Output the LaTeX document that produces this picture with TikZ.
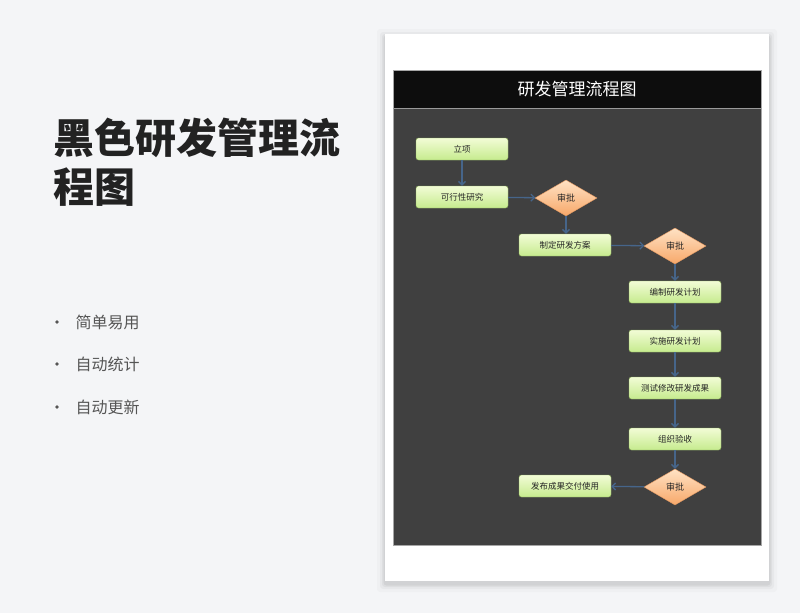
\documentclass[tikz,border=0pt]{standalone}
\usepackage{fontspec}
\setmainfont{Noto Sans CJK SC}
\newfontfamily\cjk{Noto Sans CJK SC}
\usepackage{tikz}
\usetikzlibrary{arrows.meta}
\usetikzlibrary{positioning,shapes.geometric}
\definecolor{pagebg}{HTML}{F4F5F7}
\definecolor{panelbg}{HTML}{404040}
\definecolor{barbg}{HTML}{0D0D0D}
\definecolor{boxtop}{HTML}{F2FCD6}
\definecolor{boxbot}{HTML}{C6EB8E}
\definecolor{boxline}{HTML}{8FB35A}
\definecolor{dtop}{HTML}{FFE2C4}
\definecolor{dbot}{HTML}{F7A86A}
\definecolor{dline}{HTML}{E59A62}
\definecolor{flow}{HTML}{46658A}
\definecolor{bigtext}{HTML}{222222}
\definecolor{listtext}{HTML}{555555}

\begin{document}
\begin{tikzpicture}[
x=1pt,y=-1pt,
ProcBox/.style={draw=boxline,top color=boxtop,bottom color=boxbot,rounded corners=2.5pt,
  minimum width=92pt,minimum height=22pt,inner sep=0pt,font=\cjk\fontsize{8.5}{10}\selectfont,text=black!85},
CheckDiamond/.style={diamond,draw=dline,top color=dtop,bottom color=dbot,aspect=1.7,
  minimum width=62pt,minimum height=36pt,inner sep=0pt,font=\cjk\fontsize{9}{10}\selectfont,text=black!85},
FlowArrow/.style={draw=flow,line width=1.3pt,-{Straight Barb[length=3.5pt,width=7pt]}},
ListItem/.style={anchor=west,font=\cjk\fontsize{16}{18}\selectfont,text=listtext}
]
\useasboundingbox (0,0) rectangle (800,613);
\fill[pagebg] (0,0) rectangle (800,613);

% card with soft shadow
\foreach \s/\o in {8/0.02,5/0.03,3/0.04,1.5/0.05}
  \fill[black,opacity=\o,rounded corners=3pt] (385-\s,34-\s+3) rectangle (769+\s,581+\s+3);
\fill[white] (385,34) rectangle (769,581);

% panel
\fill[panelbg] (393,108) rectangle (761,545);
\fill[barbg] (393,70) rectangle (761,108);
\draw[gray!70,line width=0.8pt] (393,70) rectangle (761,545);
\draw[gray!80,line width=0.6pt] (393,108) -- (761,108);
\node[text=white,font=\cjk\fontsize{17}{20}\selectfont] (title) at (577,89) {研发管理流程图};

% left side text
\node[anchor=north west,align=left,inner sep=0pt,text=bigtext,
  font=\cjk\bfseries\fontsize{41}{49}\selectfont] (heading) at (53,118) {黑色研发管理流\\程图};

\foreach \t/\yy/\n in {简单易用/322/a,自动统计/364/b,自动更新/407/c}{
  \fill[listtext] (57,\yy) circle (1.8pt);
  \node[ListItem] (item\n) at (72,\yy) {\t};
}

% flow chart
\node[ProcBox] (lixiang) at (462,149) {立项};
\node[ProcBox] (kexing) at (462,197) {可行性研究};
\node[CheckDiamond] (shenpiA) at (566,198) {审批};
\node[ProcBox] (fangan) at (565,245) {制定研发方案};
\node[CheckDiamond] (shenpiB) at (675,246) {审批};
\node[ProcBox] (bianzhi) at (675,292) {编制研发计划};
\node[ProcBox] (shishi) at (675,341) {实施研发计划};
\node[ProcBox] (ceshi) at (675,388) {测试修改研发成果};
\node[ProcBox] (yanshou) at (675,439) {组织验收};
\node[CheckDiamond] (shenpiC) at (675,487) {审批};
\node[ProcBox] (fabu) at (565,486) {发布成果交付使用};

\draw[FlowArrow] (lixiang) -- (kexing);
\draw[FlowArrow] (kexing) -- (shenpiA);
\draw[FlowArrow] (shenpiA) -- (fangan.north -| shenpiA);
\draw[FlowArrow] (fangan) -- (shenpiB);
\draw[FlowArrow] (shenpiB) -- (bianzhi);
\draw[FlowArrow] (bianzhi) -- (shishi);
\draw[FlowArrow] (shishi) -- (ceshi);
\draw[FlowArrow] (ceshi) -- (yanshou);
\draw[FlowArrow] (yanshou) -- (shenpiC);
\draw[FlowArrow] (shenpiC) -- (fabu);

\end{tikzpicture}
\end{document}
